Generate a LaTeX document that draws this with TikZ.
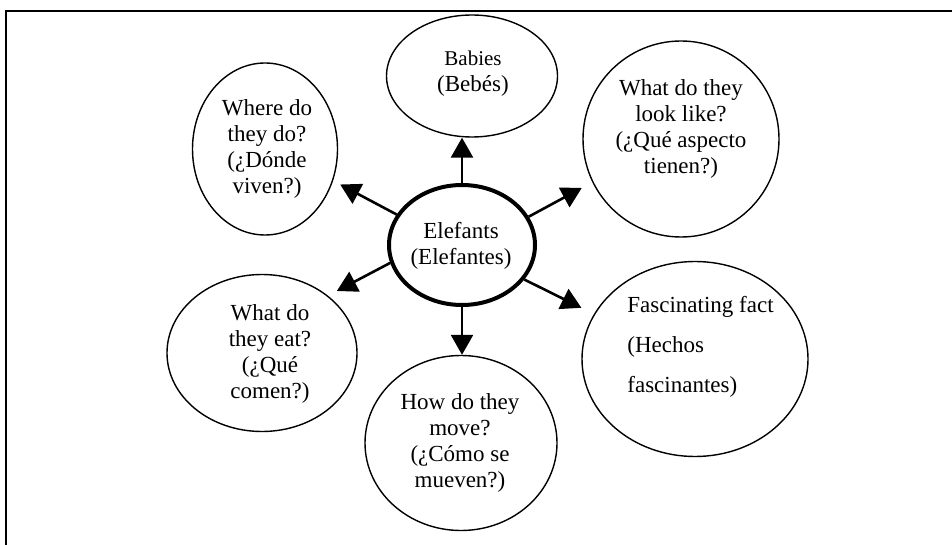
\documentclass[tikz,border=0pt]{standalone}
\usepackage{fontspec}
\setmainfont{Liberation Serif}
\usetikzlibrary{shapes.geometric,arrows.meta}
\tikzset{
  bubble/.style={draw, ellipse, line width=0.7pt, inner sep=0pt},
  txt/.style={align=center, inner sep=0pt, font=\fontsize{11.5}{13}\selectfont},
  arr/.style={line width=1.3pt, -{Triangle[length=10pt,width=11pt]}}
}
\begin{document}
\begin{tikzpicture}[x=0.5pt,y=-0.5pt]
  \useasboundingbox (0,0) rectangle (952,545);
  % frame
  \coordinate (corner) at (6,11);
  \draw[line width=1pt] (corner -| 952,0) -- (corner) -- (corner |- 0,545);
  % bubbles
  \node[bubble, line width=2pt, minimum width=73pt, minimum height=60pt] (elef) at (462,245) {};
  \node[bubble, minimum width=85.5pt, minimum height=61pt] (babies) at (472,76) {};
  \node[bubble, minimum width=72.5pt, minimum height=86pt] (where) at (265,149) {};
  \node[bubble, minimum width=98pt, minimum height=98pt] (look) at (681,139) {};
  \node[bubble, minimum width=95pt, minimum height=78.5pt] (eat) at (262,353) {};
  \node[bubble, minimum width=96pt, minimum height=87.5pt] (move) at (461,443) {};
  \node[bubble, minimum width=113pt, minimum height=97.5pt] (fact) at (695,359) {};
  % texts
  \node[txt] (eleftext) at (461,246) {Elefants\\(Elefantes)};
  \node[txt] (babiestext) at (473,74) {{\fontsize{10.5}{13}\selectfont Babies}\\(Bebés)};
  \node[txt] (wheretext) at (267,149) {Where do\\they do?\\(¿Dónde\\viven?)};
  \node[txt] (looktext) at (681,129) {What do they\\look like?\\(¿Qué aspecto\\tienen?)};
  \node[txt] (eattext) at (270,354) {What do\\they eat?\\(¿Qué\\comen?)};
  \node[txt] (movetext) at (460,443) {How do they\\move?\\(¿Cómo se\\mueven?)};
  \node[txt, align=left, anchor=west, font=\fontsize{11.5}{20}\selectfont] (facttext) at (627,347) {Fascinating fact\\(Hechos\\fascinantes)};
  % arrows
  \draw[arr] (elef) -- (elef |- babies.south);
  \draw[arr] (elef) -- (elef |- move.north);
  \draw[arr, shorten >=4pt] (elef.155) -- (where.-25);
  \draw[arr, shorten >=6pt] (elef.23) -- (look.206);
  \draw[arr, shorten >=5pt] (elef.194) -- (eat.41);
  \draw[arr, shorten >=7pt] (elef.-29) -- (fact.156);
\end{tikzpicture}
\end{document}
